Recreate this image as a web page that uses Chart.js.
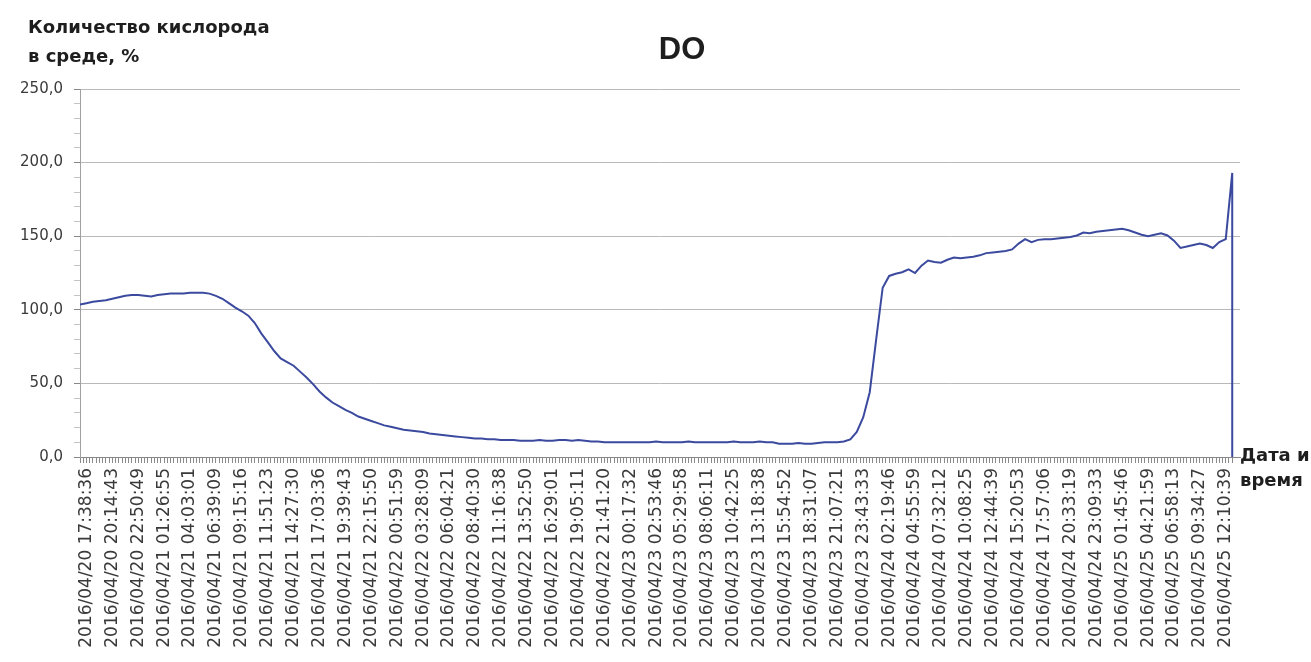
<!DOCTYPE html>
<html><head><meta charset="utf-8">
<script src="https://cdn.jsdelivr.net/npm/chart.js"></script>
<style>html,body{margin:0;padding:0;background:#fff}#wrap{width:1311px;height:662px}</style>
</head><body><div id="wrap"><canvas id="c" width="1311" height="662"></canvas></div>
<script>
const chartTitle = 'DO';
const yTitleLines = ['Количество кислорода', 'в среде, %'];
const xTitleLines = ['Дата и', 'время'];
const tickLabels = [
  '2016/04/20 17:38:36','2016/04/20 20:14:43','2016/04/20 22:50:49','2016/04/21 01:26:55',
  '2016/04/21 04:03:01','2016/04/21 06:39:09','2016/04/21 09:15:16','2016/04/21 11:51:23',
  '2016/04/21 14:27:30','2016/04/21 17:03:36','2016/04/21 19:39:43','2016/04/21 22:15:50',
  '2016/04/22 00:51:59','2016/04/22 03:28:09','2016/04/22 06:04:21','2016/04/22 08:40:30',
  '2016/04/22 11:16:38','2016/04/22 13:52:50','2016/04/22 16:29:01','2016/04/22 19:05:11',
  '2016/04/22 21:41:20','2016/04/23 00:17:32','2016/04/23 02:53:46','2016/04/23 05:29:58',
  '2016/04/23 08:06:11','2016/04/23 10:42:25','2016/04/23 13:18:38','2016/04/23 15:54:52',
  '2016/04/23 18:31:07','2016/04/23 21:07:21','2016/04/23 23:43:33','2016/04/24 02:19:46',
  '2016/04/24 04:55:59','2016/04/24 07:32:12','2016/04/24 10:08:25','2016/04/24 12:44:39',
  '2016/04/24 15:20:53','2016/04/24 17:57:06','2016/04/24 20:33:19','2016/04/24 23:09:33',
  '2016/04/25 01:45:46','2016/04/25 04:21:59','2016/04/25 06:58:13','2016/04/25 09:34:27',
  '2016/04/25 12:10:39'
];
// DO readings (%), 4 samples per labelled interval; first label is at sample 1
const doValues = [
  103.5,104.5,105.5,106,106.5,107.5,108.5,109.5,110,110,
  109.5,109,110,110.5,111,111,111,111.5,111.5,111.5,
  111,109.5,107.5,104.5,101.5,99,96,91,84,78,
  72,67,64.5,62,58,54,49.5,44.5,40.5,37,
  34.5,32,30,27.5,26,24.5,23,21.5,20.5,19.5,
  18.5,18,17.5,17,16,15.5,15,14.5,14,13.5,
  13,12.5,12.5,12,12,11.5,11.5,11.5,11,11,
  11,11.5,11,11,11.5,11.5,11,11.5,11,10.5,
  10.5,10,10,10,10,10,10,10,10,10.5,
  10,10,10,10,10.5,10,10,10,10,10,
  10,10.5,10,10,10,10.5,10,10,9,9,
  9,9.5,9,9,9.5,10,10,10,10.5,12,
  17,27,44,80,115,123,124.5,125.5,127.5,125,
  130,133.5,132.5,132,134,135.5,135,135.5,136,137,
  138.5,139,139.5,140,141,145,148,146,147.5,148,
  148,148.5,149,149.5,150.5,152.5,152,153,153.5,154,
  154.5,155,154,152.5,151,150,151,152,150.5,147,
  142,143,144,145,144,142,146,148,193
];
const dropValue = 0;
const firstLabelSample = 1;
const samplesPerLabel = 4;
const yMax = 250;
const yMajorStep = 50;
const yMinorStep = 10;

const lastIdx = doValues.length - 1;
const series = doValues.map((v, i) => ({x: i, y: v})).concat([{x: lastIdx, y: dropValue}]);

const textPlugin = {
  id: 'texts',
  afterDraw(chart) {
    const ctx = chart.ctx, a = chart.chartArea;
    ctx.save();
    ctx.fillStyle = '#1e1e1e';
    ctx.textAlign = 'left';
    ctx.textBaseline = 'alphabetic';
    ctx.font = 'bold 18px "DejaVu Sans"';
    ctx.fillText(yTitleLines[0], 28, 33);
    ctx.fillText(yTitleLines[1], 28, 62);
    ctx.fillText(xTitleLines[0], a.right, a.bottom + 4);
    ctx.fillText(xTitleLines[1], a.right, a.bottom + 29);
    ctx.font = 'bold 31px "Liberation Sans"';
    ctx.textAlign = 'center';
    ctx.fillText(chartTitle, 682, 59);
    ctx.restore();
  }
};

const isMajor = (v) => Math.abs(v % yMajorStep) < 1e-6;

new Chart(document.getElementById('c'), {
  type: 'line',
  data: { datasets: [{
    data: series,
    borderColor: '#3b4a9e',
    borderWidth: 2,
    pointRadius: 0,
    tension: 0,
    fill: false
  }]},
  options: {
    responsive: false,
    animation: false,
    devicePixelRatio: 1,
    layout: { padding: { top: 89, right: 71, left: 0, bottom: 0 } },
    plugins: { legend: { display: false }, tooltip: { enabled: false }, title: { display: false } },
    scales: {
      x: {
        type: 'linear',
        min: 0,
        max: lastIdx + 1.2,
        afterBuildTicks(scale) {
          const t = [];
          for (let v = 0; v <= lastIdx; v += 0.5) t.push({ value: v });
          scale.ticks = t;
        },
        afterFit(scale) { scale.height = 205; },
        grid: { drawOnChartArea: false, tickLength: 6, tickColor: '#8a8a8a', tickWidth: 1 },
        border: { display: true, color: '#888', width: 1 },
        ticks: {
          autoSkip: false,
          maxRotation: 90,
          minRotation: 90,
          padding: 5,
          color: '#3a3a3a',
          font: { family: 'DejaVu Sans', size: 17 },
          callback(value) {
            const r = value - firstLabelSample;
            if (r >= 0 && r % samplesPerLabel === 0) return tickLabels[r / samplesPerLabel] ?? '';
            return '';
          }
        }
      },
      y: {
        min: 0,
        max: yMax,
        afterBuildTicks(scale) {
          const t = [];
          for (let v = 0; v <= yMax; v += yMinorStep) t.push({ value: v });
          scale.ticks = t;
        },
        afterFit(scale) { scale.width = 80; },
        ticks: {
          autoSkip: false,
          padding: 11,
          color: '#3a3a3a',
          font: { family: 'DejaVu Sans', size: 15 },
          callback(value) { return isMajor(value) ? value.toFixed(1).replace('.', ',') : ''; }
        },
        grid: {
          tickLength: 6,
          color: (c) => (c.tick && isMajor(c.tick.value)) ? '#b9b9b9' : 'rgba(0,0,0,0)',
          tickColor: (c) => (c.tick && isMajor(c.tick.value)) ? '#888' : '#c4c4c4',
          lineWidth: 1
        },
        border: { display: true, color: '#a0a0a0', width: 1 }
      }
    }
  },
  plugins: [textPlugin]
});
</script>
</body></html>
